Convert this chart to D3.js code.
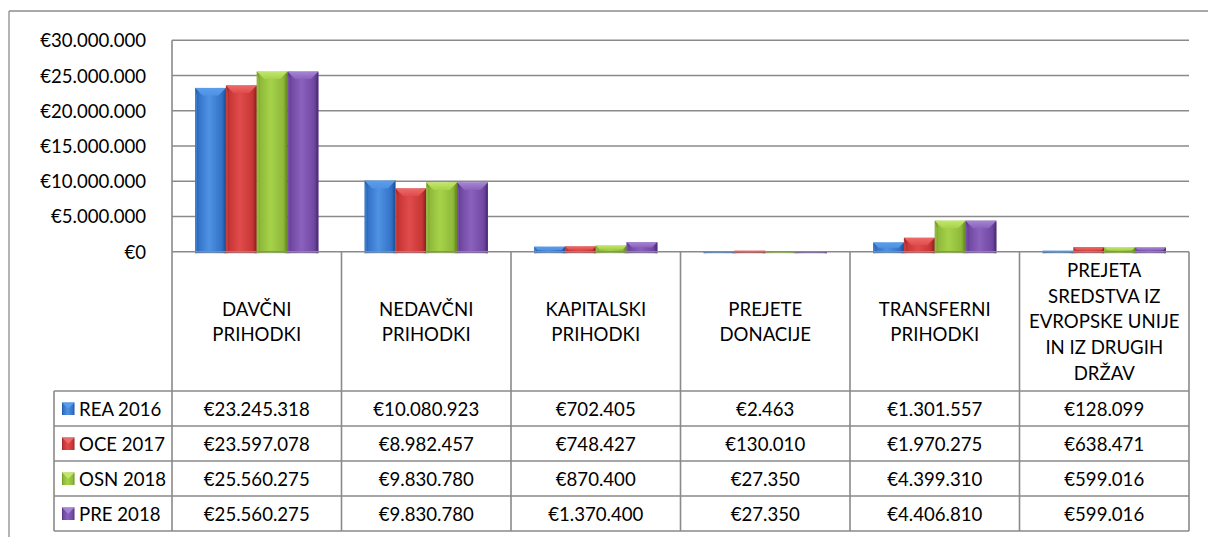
<!DOCTYPE html>
<html>
<head>
<meta charset="utf-8">
<script src="https://cdn.jsdelivr.net/npm/d3@7"></script>
<style>
  html, body { margin: 0; padding: 0; background: #fff; }
  svg { display: block; }
  text { font-family: Lato, "Open Sans", sans-serif; fill: #000; }
</style>
</head>
<body>
<svg id="chart" width="1208" height="537"></svg>
<script>
// ---- Data ----
const categories = [
  "DAVČNI PRIHODKI",
  "NEDAVČNI PRIHODKI",
  "KAPITALSKI PRIHODKI",
  "PREJETE DONACIJE",
  "TRANSFERNI PRIHODKI",
  "PREJETA SREDSTVA IZ EVROPSKE UNIJE IN IZ DRUGIH DRŽAV"
];
const categoryLines = [
  ["DAVČNI", "PRIHODKI"],
  ["NEDAVČNI", "PRIHODKI"],
  ["KAPITALSKI", "PRIHODKI"],
  ["PREJETE", "DONACIJE"],
  ["TRANSFERNI", "PRIHODKI"],
  ["PREJETA", "SREDSTVA IZ", "EVROPSKE UNIJE", "IN IZ DRUGIH", "DRŽAV"]
];
const seriesNames = ["REA 2016", "OCE 2017", "OSN 2018", "PRE 2018"];
const rea2016 = [23245318, 10080923, 702405, 2463, 1301557, 128099];
const oce2017 = [23597078, 8982457, 748427, 130010, 1970275, 638471];
const osn2018 = [25560275, 9830780, 870400, 27350, 4399310, 599016];
const pre2018 = [25560275, 9830780, 1370400, 27350, 4406810, 599016];
const seriesValues = [rea2016, oce2017, osn2018, pre2018];
const yTicks = [0, 5000000, 10000000, 15000000, 20000000, 25000000, 30000000];

// ---- Styles ----
const palette = [
  { base: "#3473c9", light: "#4f92e2", dark: "#1f549c", top: "#5a9ded" },
  { base: "#c93636", light: "#e04c4c", dark: "#962222", top: "#ec6b6b" },
  { base: "#8fba3a", light: "#a6d24a", dark: "#6a8d22", top: "#c3e66a" },
  { base: "#7149a3", light: "#8a62bd", dark: "#4f2f7c", top: "#a586d2" }
];
const gridColor = "#8a8a8a";
const fontSize = 18.6;

const svg = d3.select("#chart");
const defs = svg.append("defs");

const L = 172, R = 1189, T = 40.3, B = 251.7;
const rowEdges = [391, 426, 461, 496, 531];
const legendLeft = 54;

const locale = d3.formatLocale({ decimal: ",", thousands: ".", grouping: [3], currency: ["€", ""] });
const fmt = locale.format("$,.0f");

const y = d3.scaleLinear().domain([0, 30000000]).range([B, T]);
const x0 = d3.scaleBand().domain(categories).range([L, R]).padding(0);
const cw = x0.bandwidth();
const x1 = d3.scaleBand().domain(seriesNames)
  .range([cw * 0.75 / 5.5, cw * (1 - 0.75 / 5.5)]).padding(0);

// gradients
palette.forEach((p, i) => {
  const g = defs.append("linearGradient").attr("id", "body" + i)
    .attr("x1", "0").attr("x2", "1").attr("y1", "0").attr("y2", "0");
  g.append("stop").attr("offset", "0").attr("stop-color", p.dark);
  g.append("stop").attr("offset", "0.12").attr("stop-color", p.base);
  g.append("stop").attr("offset", "0.45").attr("stop-color", p.light);
  g.append("stop").attr("offset", "0.85").attr("stop-color", p.base);
  g.append("stop").attr("offset", "1").attr("stop-color", p.dark);
  const t = defs.append("linearGradient").attr("id", "top" + i)
    .attr("x1", "0").attr("x2", "0").attr("y1", "0").attr("y2", "1");
  t.append("stop").attr("offset", "0").attr("stop-color", p.top);
  t.append("stop").attr("offset", "1").attr("stop-color", p.light);
});

// outer frame
svg.append("line").attr("x1", 9).attr("x2", 1208).attr("y1", 11).attr("y2", 11)
  .attr("stroke", "#8c8c8c").attr("stroke-width", 1.3);
svg.append("line").attr("x1", 9).attr("x2", 9).attr("y1", 11).attr("y2", 537)
  .attr("stroke", "#8c8c8c").attr("stroke-width", 1.3);

// gridlines
svg.append("g").selectAll("line").data(yTicks.filter(d => d > 0)).join("line")
  .attr("x1", L).attr("x2", R)
  .attr("y1", d => y(d)).attr("y2", d => y(d))
  .attr("stroke", gridColor).attr("stroke-width", 1.6);

// y axis labels
svg.append("g").selectAll("text").data(yTicks).join("text")
  .attr("x", 146).attr("y", d => y(d))
  .attr("text-anchor", "end").attr("dominant-baseline", "central")
  .style("font-size", fontSize + "px")
  .text(d => fmt(d));

// bars
const barData = [];
categories.forEach((c, ci) => {
  seriesNames.forEach((s, si) => {
    barData.push({ c, s, si, v: seriesValues[si][ci] });
  });
});
const bars = svg.append("g").selectAll("g").data(barData).join("g");
bars.each(function (d) {
  const g = d3.select(this);
  const bx = x0(d.c) + x1(d.s);
  const bw = x1.bandwidth();
  const by = y(d.v);
  const bh = B - by + 1.5;
  const b = Math.min(7.5, bh / 2, bw / 2);
  g.append("rect").attr("x", bx).attr("y", by).attr("width", bw).attr("height", bh)
    .attr("fill", `url(#body${d.si})`);
  // top bevel
  g.append("path")
    .attr("d", `M${bx},${by}L${bx + bw},${by}L${bx + bw - b},${by + b}L${bx + b},${by + b}Z`)
    .attr("fill", `url(#top${d.si})`);
  // left bevel highlight
  g.append("path")
    .attr("d", `M${bx},${by}L${bx + 2},${by + b}L${bx + 2},${by + bh}L${bx},${by + bh}Z`)
    .attr("fill", palette[d.si].light).attr("opacity", 0.6);
  // right bevel shade
  g.append("path")
    .attr("d", `M${bx + bw},${by}L${bx + bw - 2},${by + b}L${bx + bw - 2},${by + bh}L${bx + bw},${by + bh}Z`)
    .attr("fill", palette[d.si].dark).attr("opacity", 0.7);
});

// plot left border
svg.append("line").attr("x1", L).attr("x2", L).attr("y1", T).attr("y2", rowEdges[rowEdges.length - 1])
  .attr("stroke", gridColor).attr("stroke-width", 1.6);

// data table lines
const tbl = svg.append("g").attr("stroke", gridColor).attr("stroke-width", 1.6);
tbl.append("line").attr("x1", L).attr("x2", R).attr("y1", B).attr("y2", B);
tbl.selectAll("line.h").data(rowEdges).join("line").attr("class", "h")
  .attr("x1", legendLeft).attr("x2", R).attr("y1", d => d).attr("y2", d => d);
tbl.selectAll("line.v").data(categories).join("line").attr("class", "v")
  .attr("x1", d => x0(d) + cw).attr("x2", d => x0(d) + cw)
  .attr("y1", B).attr("y2", rowEdges[rowEdges.length - 1]);
tbl.append("line").attr("x1", legendLeft).attr("x2", legendLeft)
  .attr("y1", rowEdges[0]).attr("y2", rowEdges[rowEdges.length - 1]);

// header labels
const lineH = 25.7;
const headMid = (B + rowEdges[0]) / 2;
svg.append("g").selectAll("text").data(categories).join("text")
  .attr("text-anchor", "middle")
  .style("font-size", fontSize + "px")
  .each(function (c, i) {
    const lines = categoryLines[i];
    const t = d3.select(this);
    const startY = headMid - (lines.length - 1) * lineH / 2;
    lines.forEach((ln, k) => {
      t.append("tspan").attr("x", x0(c) + cw / 2).attr("y", startY + k * lineH)
        .attr("dominant-baseline", "central").text(ln);
    });
  });

// legend rows + values
seriesNames.forEach((s, si) => {
  const cy = (rowEdges[si] + rowEdges[si + 1]) / 2;
  // key
  const kx = 62, ky = cy - 6, ks = 12.5;
  svg.append("rect").attr("x", kx).attr("y", ky).attr("width", ks).attr("height", ks)
    .attr("fill", `url(#body${si})`);
  svg.append("path")
    .attr("d", `M${kx},${ky}L${kx + ks},${ky}L${kx + ks / 2},${ky + ks / 2}Z`)
    .attr("fill", palette[si].top);
  svg.append("text").attr("x", 79).attr("y", cy)
    .attr("dominant-baseline", "central")
    .style("font-size", fontSize + "px").text(s);
  svg.append("g").selectAll("text").data(categories).join("text")
    .attr("x", c => x0(c) + cw / 2).attr("y", cy)
    .attr("text-anchor", "middle").attr("dominant-baseline", "central")
    .style("font-size", fontSize + "px")
    .text((c, ci) => fmt(seriesValues[si][ci]));
});
</script>
</body>
</html>
